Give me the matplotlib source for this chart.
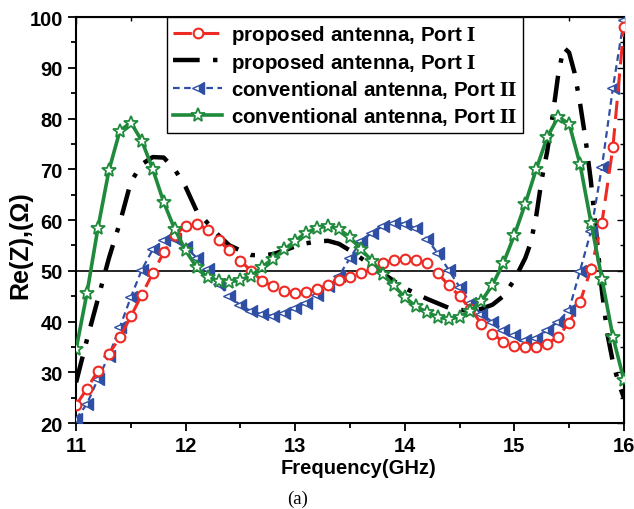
import matplotlib
matplotlib.use('Agg')
import matplotlib.pyplot as plt
from matplotlib.ticker import MultipleLocator

# frequency grid (GHz) for the marked curves
freq = [11.0 + 0.1 * i for i in range(51)]

# proposed antenna, Port I (red circles)
red_z = [23.5, 26.8, 30.3, 33.6, 36.9, 41.0, 45.3, 49.5, 53.6, 57.0,
         58.9, 59.3, 58.1, 56.0, 54.0, 52.0, 49.9, 48.0, 46.9, 46.1,
         45.6, 45.8, 46.4, 47.2, 48.2, 48.8, 49.5, 50.3, 51.5, 52.1,
         52.3, 52.2, 51.5, 49.5, 47.2, 45.0, 42.4, 39.6, 37.6, 36.0,
         35.2, 34.9, 34.9, 35.6, 37.0, 39.8, 43.8, 50.4, 59.5, 74.3,
         98.0]

# conventional antenna, Port II (blue triangles)
blue_z = [20.8, 23.8, 28.7, 33.3, 38.9, 44.8, 50.2, 54.2, 56.0, 56.2,
          54.6, 52.6, 50.3, 47.4, 45.0, 43.2, 42.0, 41.4, 41.1, 41.7,
          42.7, 43.7, 45.2, 47.0, 49.0, 52.5, 55.8, 57.5, 58.8, 59.4,
          59.3, 58.4, 56.3, 53.5, 50.2, 46.8, 43.6, 41.5, 39.9, 38.3,
          37.3, 36.3, 36.8, 38.3, 40.0, 42.3, 50.0, 57.8, 70.5, 86.0,
          99.5]

# conventional antenna, Port II (green stars)
green_z = [34.5, 45.7, 58.5, 69.8, 77.6, 79.2, 75.6, 70.0, 63.5, 58.2,
           54.0, 50.7, 48.7, 48.0, 47.8, 48.2, 49.0, 50.8, 52.4, 54.2,
           55.9, 57.5, 58.4, 58.9, 58.2, 56.6, 54.2, 52.0, 49.3, 47.1,
           44.8, 43.0, 41.9, 40.9, 40.5, 40.9, 42.1, 44.0, 47.2, 51.5,
           57.0, 63.2, 70.0, 76.3, 80.3, 79.0, 71.0, 59.5, 48.4, 37.0,
           28.5]

# proposed antenna, Port I (black dash-dot, no markers)
black_f = [11.0, 11.1, 11.2, 11.3, 11.4, 11.5, 11.6, 11.7, 11.8, 11.9,
           12.0, 12.1, 12.2, 12.3, 12.4, 12.5, 12.6, 12.7, 12.8, 12.9,
           13.0, 13.1, 13.2, 13.3, 13.4, 13.5, 13.6, 13.7, 13.8, 13.9,
           14.0, 14.1, 14.2, 14.3, 14.4, 14.5, 14.6, 14.7, 14.8, 14.9,
           15.0, 15.1, 15.15, 15.2, 15.25, 15.3, 15.35, 15.4, 15.45, 15.5,
           15.55, 15.6, 15.65, 15.7, 15.75, 15.8, 15.85, 15.9, 15.95, 16.0]
black_z = [28.0, 36.5, 44.5, 52.5, 59.5, 67.5, 71.0, 72.4, 72.3, 70.0,
           66.5, 61.8, 59.4, 57.0, 55.0, 54.0, 53.1, 53.0, 53.3, 54.0,
           54.8, 55.4, 55.8, 55.9, 55.3, 54.0, 52.5, 51.0, 49.5, 48.0,
           46.6, 45.5, 44.5, 43.6, 42.7, 42.3, 42.1, 42.5, 43.3, 45.0,
           48.2, 52.5, 55.5, 60.8, 68.0, 73.5, 80.5, 88.5, 94.0, 93.0,
           89.0, 83.0, 76.0, 67.5, 57.0, 46.0, 37.5, 32.0, 28.0, 25.0]

labels = ['proposed antenna, Port $\\mathrm{I}$',
          'proposed antenna, Port $\\mathrm{I}$',
          'conventional antenna, Port $\\mathrm{II}$',
          'conventional antenna, Port $\\mathrm{II}$']

plt.rcParams['font.family'] = 'Liberation Sans'
plt.rcParams['font.weight'] = 'bold'
plt.rcParams['mathtext.fontset'] = 'stix'

red = '#ee2a24'
blue = '#2f4fa5'
green = '#1f8a3b'

fig = plt.figure(figsize=(6.34, 5.10), dpi=100)
ax = fig.add_axes([0.12, 0.1686, 0.864, 0.7961])

ax.axhline(50, color='k', lw=1.2, zorder=1)

l2, = ax.plot(black_f, black_z, color='k', lw=3.2, dashes=(6, 3, 1, 3),
              label=labels[1], zorder=2)
l3, = ax.plot(freq, blue_z, color=blue, lw=1.6, dashes=(3, 2), marker='<',
              ms=8, fillstyle='right', markerfacecolor=blue,
              markerfacecoloralt='white', markeredgecolor=blue, mew=1.0,
              label=labels[2], zorder=3)
l1, = ax.plot(freq, red_z, color=red, lw=2.2, dashes=(6, 3), marker='o',
              ms=7, markerfacecolor='white', markeredgecolor=red, mew=1.5,
              label=labels[0], zorder=4)
l4, = ax.plot(freq, green_z, color=green, lw=2.6, marker='*', ms=10,
              markerfacecolor='white', markeredgecolor=green, mew=1.3,
              label=labels[3], zorder=5)

ax.set_xlim(11, 16)
ax.set_ylim(20, 100)
ax.xaxis.set_major_locator(MultipleLocator(1))
ax.xaxis.set_minor_locator(MultipleLocator(0.5))
ax.yaxis.set_major_locator(MultipleLocator(10))
ax.yaxis.set_minor_locator(MultipleLocator(5))
ax.tick_params(which='both', direction='out', width=1.3, labelsize=14.5)
ax.tick_params(which='major', length=6)
ax.tick_params(which='minor', length=3.5)
for s in ax.spines.values():
    s.set_linewidth(1.5)

# mirrored inward ticks on top and right
top = ax.secondary_xaxis('top')
top.xaxis.set_major_locator(MultipleLocator(1))
top.xaxis.set_minor_locator(MultipleLocator(0.5))
top.tick_params(which='both', direction='in', labeltop=False, width=1.0)
top.tick_params(which='major', length=5)
top.tick_params(which='minor', length=3)
right = ax.secondary_yaxis('right')
right.yaxis.set_major_locator(MultipleLocator(10))
right.yaxis.set_minor_locator(MultipleLocator(5))
right.tick_params(which='both', direction='in', labelright=False, width=1.0)
right.tick_params(which='major', length=5)
right.tick_params(which='minor', length=3)

ax.set_xlabel('Frequency(GHz)', fontsize=14.5, fontweight='bold')
ax.xaxis.set_label_coords(0.515, -0.085)
ax.set_ylabel('Re(Z),(\u03a9)', fontsize=18, fontweight='bold')
ax.yaxis.set_label_coords(-0.08, 0.44)

leg = ax.legend(handles=[l1, l2, l3, l4], loc='upper center',
                bbox_to_anchor=(0.491, 1.0), fancybox=False, framealpha=1,
                edgecolor='k', fontsize=14.8, handlelength=2.4,
                handletextpad=0.4, borderpad=0.3, labelspacing=0.22,
                borderaxespad=0.0)
leg.get_frame().set_linewidth(1.0)

fig.text(0.47, 0.02, '(a)', ha='center', va='center', fontsize=13.5,
         family='Liberation Serif', fontweight='normal')

fig.savefig('out.png', dpi=100)
